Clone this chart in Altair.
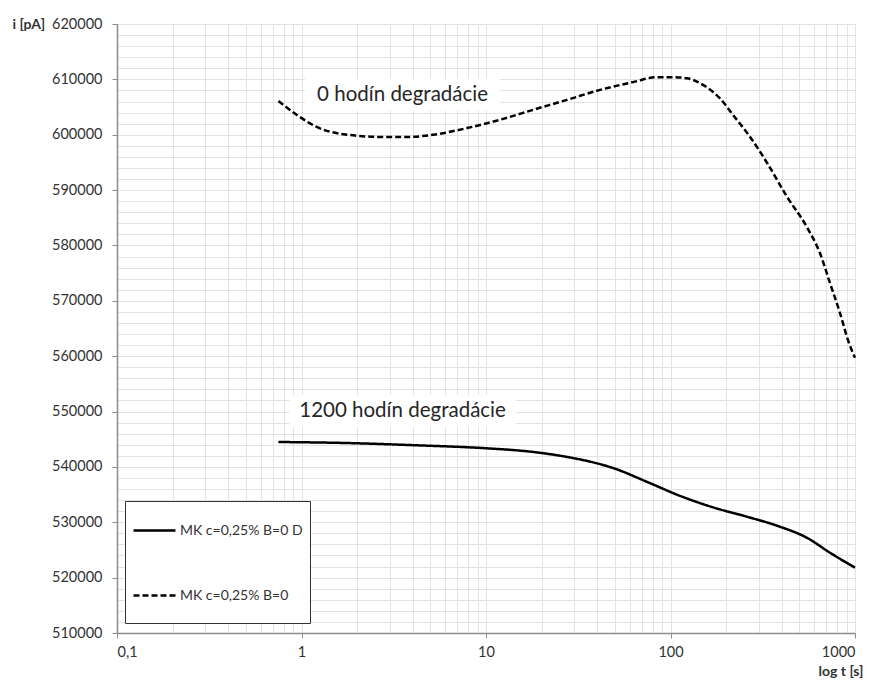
import altair as alt
import pandas as pd

# ---- data ----
series_solid = "MK c=0,25% B=0 D"
series_dash = "MK c=0,25% B=0"

t_0h = [0.75, 0.98, 1.21, 1.68, 2.77, 3.73, 5.43, 7.89, 11.9, 18.0, 27.5, 41.5, 62.6, 84.5,
        101.9, 122.8, 150, 185, 218, 270, 334, 428, 549, 646, 732, 829, 916, 1000]
i_0h = [606100, 603200, 601400, 600100, 599600, 599600, 600100, 601200, 602700, 604500,
        606300, 608100, 609500, 610400, 610400, 610200, 609000, 606600, 603600, 599600,
        594900, 588800, 583300, 578600, 573200, 567800, 562900, 559700]

t_1200h = [0.75, 1.83, 4.23, 9.63, 18.0, 27.5, 41.5, 48.8, 74.6, 112, 170, 260, 392, 549, 732, 1000]
i_1200h = [544500, 544300, 543900, 543400, 542700, 541800, 540500, 539800, 537300, 534800,
           532700, 531000, 529200, 527200, 524500, 521800]

ann_labels = ["0 hodín degradácie", "1200 hodín degradácie"]
ann_t = [3.53, 3.53]
ann_i = [607200, 550100]
ann_box_w = [195, 226]

x_major = [0.1, 1, 10, 100, 1000]
x_grid = [0.1, 0.2, 0.3, 0.4, 0.5, 0.6, 0.7, 0.8, 0.9,
          1, 2, 3, 4, 5, 6, 7, 8, 9,
          10, 20, 30, 40, 50, 60, 70, 80, 90,
          100, 200, 300, 400, 500, 600, 700, 800, 900, 1000]
y_major = list(range(510000, 620001, 10000))
y_grid = list(range(510000, 620001, 2000))

df = pd.concat([
    pd.DataFrame({"t": t_1200h, "i": i_1200h, "series": series_solid}),
    pd.DataFrame({"t": t_0h, "i": i_0h, "series": series_dash}),
])
ann = pd.DataFrame({"t": ann_t, "i": ann_i, "label": ann_labels, "w": ann_box_w})

x_scale = alt.Scale(type="log", domain=[0.1, 1000], nice=False)
y_scale = alt.Scale(domain=[510000, 620000], nice=False, zero=False)

FONT = "Lato"
LBL = "#333333"
AX = "#8c8c8c"
GRID = "#e2e2e2"

grid_x_axis = alt.Axis(values=x_grid, grid=True, gridColor=GRID, gridWidth=1, labels=False,
                       ticks=False, domain=False, title=None, orient="bottom")
grid_y_axis = alt.Axis(values=y_grid, grid=True, gridColor=GRID, gridWidth=1, labels=False,
                       ticks=False, domain=False, title=None, orient="left")

lines = alt.Chart(df).mark_line(interpolate="monotone", strokeWidth=2.5, color="black").encode(
    x=alt.X("t:Q", scale=x_scale, axis=grid_x_axis),
    y=alt.Y("i:Q", scale=y_scale, axis=grid_y_axis),
    strokeDash=alt.StrokeDash(
        "series:N",
        scale=alt.Scale(domain=[series_solid, series_dash], range=[[1, 0], [6, 3]]),
        legend=alt.Legend(
            title=" ", titleOrient="bottom", titleFontSize=12, titlePadding=2,
            orient="none", legendX=8, legendY=477,
            symbolType="stroke", symbolSize=1764, symbolStrokeWidth=2.5,
            symbolStrokeColor="black", labelFont=FONT, labelFontSize=14,
            labelColor=LBL, labelOffset=3, rowPadding=35, padding=7,
            strokeColor="#333333", fillColor="white", cornerRadius=0,
        ),
    ),
)

label_x_axis = alt.Axis(
    values=x_major, grid=False, ticks=True, tickSize=5, tickColor=AX, tickWidth=1,
    domain=True, domainColor=AX, domainWidth=1.5,
    labelExpr="replace(toString(datum.value), '.', ',')",
    labelFont=FONT, labelFontSize=14.5, labelColor=LBL, labelPadding=7,
    title="log t [s]", titleFont=FONT, titleFontSize=14, titleFontWeight="bold",
    titleColor=LBL, titleX=746, titleY=38, titleAlign="right", titleBaseline="middle",
    orient="bottom",
)
label_y_axis = alt.Axis(
    values=y_major, grid=False, ticks=True, tickSize=5, tickColor=AX, tickWidth=1,
    domain=True, domainColor=AX, domainWidth=1.5, format="d",
    labelFont=FONT, labelFontSize=14.5, labelColor=LBL, labelPadding=10,
    title="i [pA]", titleFont=FONT, titleFontSize=14, titleFontWeight="bold",
    titleColor=LBL, titleAngle=0, titleX=-105, titleY=0, titleAlign="left",
    titleBaseline="middle", orient="left",
)

boxes = []
for k in range(len(ann_labels)):
    boxes.append(
        alt.Chart(ann.iloc[[k]]).mark_rect(color="white", width=ann_box_w[k], height=32).encode(
            x=alt.X("t:Q", scale=x_scale, axis=grid_x_axis),
            y=alt.Y("i:Q", scale=y_scale, axis=grid_y_axis),
        )
    )

texts = alt.Chart(ann).mark_text(font=FONT, fontSize=20.5, color="#262626").encode(
    x=alt.X("t:Q", scale=x_scale, axis=label_x_axis),
    y=alt.Y("i:Q", scale=y_scale, axis=label_y_axis),
    text="label:N",
)

chart = alt.layer(lines, *boxes, texts).resolve_axis(x="independent", y="independent").properties(
    width=738, height=609,
    autosize=alt.AutoSizeParams(type="none"),
    padding={"left": 109, "top": 16, "right": 10, "bottom": 45},
).configure_view(stroke=None).configure(background="white")

chart.save("out.html", embed_options={"renderer": "svg", "actions": False})
